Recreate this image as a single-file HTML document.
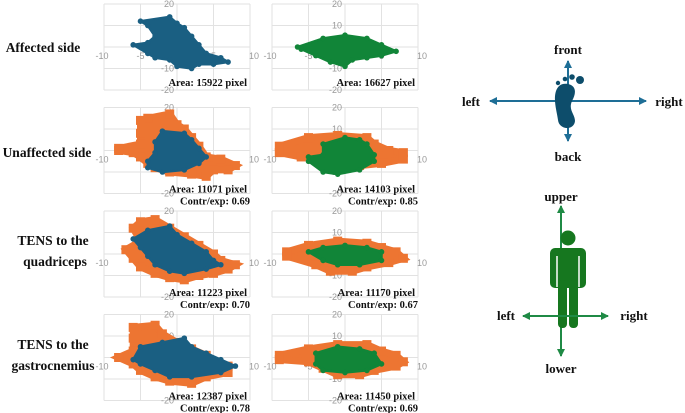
<!DOCTYPE html>
<html><head><meta charset="utf-8"><style>
body{margin:0;background:#fff;}
svg{display:block;font-family:"Liberation Serif",serif;}
.t{font-family:"Liberation Sans",sans-serif;font-size:9px;fill:#999;}
.lb{font-weight:bold;font-size:13.5px;fill:#111;}
.an{font-weight:bold;font-size:10.5px;fill:#111;}
.dl{font-weight:bold;font-size:13px;fill:#111;}
</style></head><body>
<svg id="c" width="685" height="413" viewBox="0 0 685 413">
<defs>
<marker id="ab" markerUnits="userSpaceOnUse" markerWidth="8" markerHeight="8" refX="7" refY="4" orient="auto"><path d="M0,0 L8,4 L0,8 z" fill="#1e6e96"/></marker>
<marker id="ag" markerUnits="userSpaceOnUse" markerWidth="8" markerHeight="8" refX="7" refY="4" orient="auto"><path d="M0,0 L8,4 L0,8 z" fill="#1f8a45"/></marker>
</defs>
<g id="panels"></g>
<text class="lb" x="43" y="52" text-anchor="middle">Affected side</text>
<text class="lb" x="47" y="157" text-anchor="middle">Unaffected side</text>
<text class="lb" x="53" y="245" text-anchor="middle">TENS to the</text>
<text class="lb" x="55" y="266" text-anchor="middle">quadriceps</text>
<text class="lb" x="53" y="349" text-anchor="middle">TENS to the</text>
<text class="lb" x="53" y="370" text-anchor="middle">gastrocnemius</text>
<g>
<line x1="568" y1="101" x2="490" y2="101" stroke="#1e6e96" stroke-width="2" marker-end="url(#ab)"/>
<line x1="568" y1="101" x2="646" y2="101" stroke="#1e6e96" stroke-width="2" marker-end="url(#ab)"/>
<line x1="568" y1="101" x2="568" y2="61" stroke="#1e6e96" stroke-width="2" marker-end="url(#ab)"/>
<line x1="568" y1="101" x2="568" y2="141" stroke="#1e6e96" stroke-width="2" marker-end="url(#ab)"/>
<path d="M556,91 C553,100 557,112 558,120 C559,130 574,131 575,121 C575,114 568,110 572,101 C576,94 577,86 568,84 C561,83 558,86 556,91 Z" fill="#0d4d6b"/>
<circle cx="580" cy="80" r="4" fill="#0d4d6b"/><circle cx="572" cy="77" r="2.8" fill="#0d4d6b"/><circle cx="565" cy="79" r="2.3" fill="#0d4d6b"/><circle cx="558" cy="83" r="2.2" fill="#0d4d6b"/>
<text class="dl" x="568" y="54" text-anchor="middle">front</text>
<text class="dl" x="471" y="106" text-anchor="middle">left</text>
<text class="dl" x="669" y="106" text-anchor="middle">right</text>
<text class="dl" x="568" y="161" text-anchor="middle">back</text>
</g>
<g>
<line x1="561" y1="316" x2="561" y2="206" stroke="#1f8a45" stroke-width="2" marker-end="url(#ag)"/>
<line x1="561" y1="316" x2="561" y2="356" stroke="#1f8a45" stroke-width="2" marker-end="url(#ag)"/>
<circle cx="568" cy="238" r="7.5" fill="#16771f"/>
<rect x="550" y="248" width="36" height="40" rx="5" fill="#16771f"/>
<rect x="558" y="280" width="9" height="48" rx="4" fill="#16771f"/>
<rect x="569" y="280" width="9" height="48" rx="4" fill="#16771f"/>
<line x1="557" y1="256" x2="557" y2="287" stroke="#fff" stroke-width="1.5"/>
<line x1="579" y1="256" x2="579" y2="287" stroke="#fff" stroke-width="1.5"/>
<line x1="561" y1="316" x2="523" y2="316" stroke="#1f8a45" stroke-width="2" marker-end="url(#ag)"/>
<line x1="561" y1="316" x2="608" y2="316" stroke="#1f8a45" stroke-width="2" marker-end="url(#ag)"/>
<text class="dl" x="561" y="201" text-anchor="middle">upper</text>
<text class="dl" x="506" y="320" text-anchor="middle">left</text>
<text class="dl" x="634" y="320" text-anchor="middle">right</text>
<text class="dl" x="561" y="373" text-anchor="middle">lower</text>
</g>
</svg>
<script>
const xTicks=[-10,-5,0,5,10];
const yTicks=[20,10,0,-10,-20];
const areaLabels=["Area: 15922 pixel","Area: 16627 pixel","Area: 11071 pixel","Area: 14103 pixel","Area: 11223 pixel","Area: 11170 pixel","Area: 12387 pixel","Area: 11450 pixel"];
const ratioLabels=[null,null,"Contr/exp: 0.69","Contr/exp: 0.85","Contr/exp: 0.70","Contr/exp: 0.67","Contr/exp: 0.78","Contr/exp: 0.69"];
const orangeSeries=[null,null,
[[-4,15],[-1,17],[0,12],[1,10],[2,6],[3,2],[4,-3],[6,-4],[8,-7],[7,-9],[5,-9],[4,-12],[2,-11],[-1,-10],[-3,-8],[-4,-6],[-5,-3],[-6,-1],[-8,0],[-8,1],[-5,3],[-5,8],[-5,14]],
[[-9,2],[-5,6],[-1,7],[3,6],[4,3],[6,0],[8,-1],[8,-4],[5,-6],[2,-7],[-1,-6],[-4,-3],[-6,-3],[-9,-1]],
[[-5,15],[-3,16],[-1,12],[1,8],[3,4],[5,0],[6,-3],[8,-5],[7,-7],[5,-9],[3,-10],[1,-12],[-1,-11],[-3,-9],[-5,-6],[-6,-2],[-7,2],[-5,6],[-6,12]],
[[-8,1],[-5,4],[-1,6],[3,5],[5,3],[7,1],[8,-2],[6,-4],[3,-6],[1,-8],[-2,-8],[-4,-5],[-8,-1]],
[[-6,14],[-3,15],[-2,11],[0,7],[2,4],[4,1],[5,-2],[7,-4],[7,-7],[4,-9],[2,-12],[-1,-11],[-3,-9],[-5,-6],[-6,-3],[-8,0],[-6,3],[-6,9]],
[[-9,1],[-5,4],[-1,6],[3,6],[5,3],[7,1],[8,-2],[7,-4],[4,-6],[2,-8],[-1,-8],[-3,-5],[-5,-2],[-9,-1]]];
const mainSeries=[
[[-5,12],[-1,14],[0,11],[1,9],[2,5],[3,1],[4,-3],[6,-5],[7,-7],[5,-8],[3,-8],[2,-10],[0,-9],[-1,-6],[-3,-5],[-4,-3],[-6,1],[-4,2],[-3,5],[-4,10]],
[[-6.5,0],[-3,4],[0,5.5],[3,4],[5,1],[7,-2],[5,-4],[3,-5],[1,-6],[0,-9],[-2,-7],[-4,-4],[-6,-1]],
[[-2,9],[1,8],[2,5],[3,1],[4,-3],[3,-6],[1,-9],[-2,-10],[-4,-8],[-4,-5],[-3,-1],[-3,4]],
[[-3,3],[0,6],[2,5],[3,3],[4,-2],[4,-5],[2,-9],[-1,-11],[-3,-10],[-5,-5],[-5,-3],[-3,-2]],
[[-6,7],[-4,11],[-1,13],[0,9],[2,5],[4,1],[5,-3],[6,-5],[4,-7],[1,-9],[-1,-8],[-3,-5],[-4,-1],[-5,3]],
[[-5,1],[-3,3],[0,4],[3,3],[5,1],[5,-3],[2,-5],[-1,-5],[-3,-3]],
[[-5,5],[-2,7],[1,9],[2,5],[4,2],[6,-1],[8,-4],[6,-7],[2,-9],[-1,-9],[-3,-6],[-5,-3],[-6,-1]],
[[-4,2],[-1,5],[2,4],[4,2],[5,-3],[3,-6],[0,-7],[-3,-6],[-4,-3]]];
const NS="http://www.w3.org/2000/svg";
const root=document.getElementById('panels');
function mk(t,a,p){const e=document.createElementNS(NS,t);for(const k in a)e.setAttribute(k,a[k]);p.appendChild(e);return e;}
for(let i=0;i<8;i++){
  const col=i%2,row=Math.floor(i/2);
  const x0=col?272:104,y0=4+row*103.5,w=146,h=86;
  const sx=v=>x0+(v+10)/20*w, sy=v=>y0+(20-v)/40*h;
  const g=mk('g',{},root);
  
  
  xTicks.forEach(t=>{const l=mk('line',{x1:sx(t),x2:sx(t),y1:y0,y2:y0+h,stroke:'#e2e2e2','stroke-width':1},g);});
  yTicks.forEach(t=>{const l=mk('line',{x1:x0,x2:x0+w,y1:sy(t),y2:sy(t),stroke:'#e2e2e2','stroke-width':1},g);});
  xTicks.forEach(t=>{if(t===0)return;const tx=mk('text',{class:'t',x:sx(t)+(t===-10?-2:t===10?4:0),y:sy(0)+12,'text-anchor':'middle'},g);tx.textContent=t;});
  yTicks.forEach(t=>{const tx=mk('text',{class:'t',x:sx(0)-3,y:sy(t)+3,'text-anchor':'end'},g);tx.textContent=t;});
  const o=orangeSeries[i];
  if(o){const pts=o.map(p=>sx(p[0])+','+sy(p[1])).join(' ');
    const pg=mk('polygon',{points:pts,fill:'#ed7532',stroke:'#ed7532','stroke-width':7,'stroke-linejoin':'miter'},g);
    
    o.forEach(p=>{const r=mk('rect',{x:sx(p[0])-4.5,y:sy(p[1])-4.5,width:9,height:9,fill:'#ed7532'},g);});}
  const m=mainSeries[i],c=col?'#118538':'#1a5f82';
  const pts=m.map(p=>sx(p[0])+','+sy(p[1])).join(' ');
  const pg=mk('polygon',{points:pts,fill:c,stroke:c,'stroke-width':2.5,'stroke-linejoin':'round'},g);
  
  m.forEach(p=>{const d=mk('circle',{cx:sx(p[0]),cy:sy(p[1]),r:2.8,fill:c},g);});
  const a=mk('text',{class:'an',x:x0+w-3,y:y0+(ratioLabels[i]?h-1:h-4),'text-anchor':'end','font-family':'Liberation Serif'},g);
  a.textContent=areaLabels[i];
  if(ratioLabels[i]){const r=mk('text',{class:'an',x:x0+76,y:y0+h+11},g);r.textContent=ratioLabels[i];}
}
</script>
</body></html>
